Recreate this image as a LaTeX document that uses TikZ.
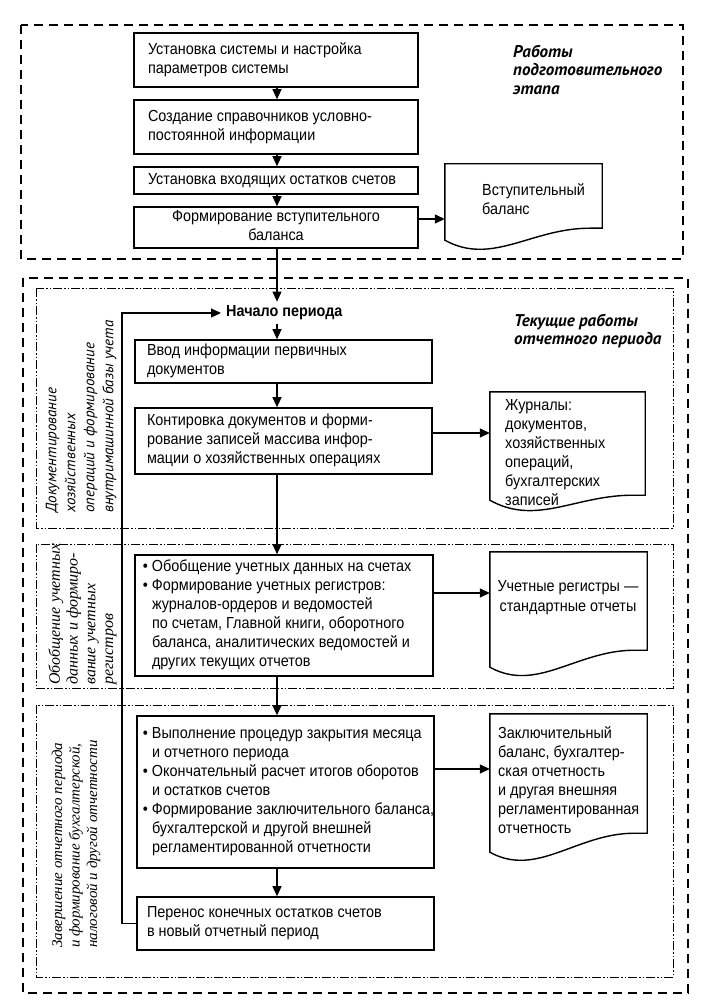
\documentclass[tikz,border=0pt]{standalone}
\usepackage{fontspec}
\setmainfont{Liberation Sans}[FakeStretch=0.9]
\newfontfamily\ptsans{PT Sans}
\newfontfamily\tnr{Liberation Serif}
\usetikzlibrary{arrows.meta,calc}
\newcommand\mytxt[3]{\makebox[#1pt][l]{\hspace*{#2pt}\begin{tabular}{@{}l@{}}#3\end{tabular}}}
\newcommand\mytl[1]{\begin{tabular}{@{}l@{}}#1\end{tabular}}
\newcommand\mytc[1]{\begin{tabular}{@{}c@{}}#1\end{tabular}}
\newcommand\bl{\llap{\textbullet\hspace{4pt}}}
\newcommand\docpath[2]{%
 \draw[docln] (#1.north west) -- (#1.north east) -- (#1.south east)
  -- ($(#1.south west)!0.92!(#1.south east)$)
  .. controls ($(#1.south west)!0.55!(#1.south east)$) and ($(#1.south west)!0.3!(#1.south east)+(0,#2+26)$)
  .. ($(#1.south west)+(0,#2)$) -- cycle;}
\begin{document}
\begin{tikzpicture}[x=1pt,y=-1pt,
 box/.style={draw, line width=1.6pt, inner sep=0pt, font=\fontsize{16}{19}\selectfont},
 docnode/.style={draw=none, inner sep=0pt},
 docln/.style={line width=1.4pt, line join=miter},
 doctxt/.style={anchor=north west, inner sep=0pt, font=\fontsize{16}{19}\selectfont},
 arr/.style={line width=1.2pt, -{Triangle[length=10pt,width=9pt]}},
 outerdash/.style={line width=2pt, dash pattern=on 9pt off 6pt},
 innerdash/.style={line width=0.9pt, dash pattern=on 9pt off 2pt on 1.5pt off 2pt on 1.5pt off 2pt},
 head/.style={anchor=north west, inner sep=0pt, font=\ptsans\bfseries\itshape\fontsize{17}{18.5}\selectfont},
 vlab/.style={rotate=90, anchor=west, inner sep=0pt}
]
\useasboundingbox[fill=white] (0,0) rectangle (720,1008);

% frames
\draw[outerdash] (21,25) rectangle (683,259);
\draw[outerdash] (23,278) rectangle (688,993);
\draw[innerdash] (36,288) rectangle (673,528);
\draw[innerdash] (36,544) rectangle (673,688);
\draw[innerdash] (36,705) rectangle (673,977);

\coordinate (ax) at (277,0);

% top section
\node[box, minimum width=284, minimum height=54] (b1) at (276,60)
  {\mytxt{284}{14}{Установка системы и настройка\\параметров системы}};
\node[box, minimum width=284, minimum height=54] (b2) at (276,127)
  {\mytxt{284}{14}{Создание справочников условно-\\постоянной информации}};
\node[box, minimum width=284, minimum height=27] (b3) at (276,180.5)
  {\mytxt{284}{14}{Установка входящих остатков счетов}};
\node[box, minimum width=284, minimum height=41] (b4) at (276,227.5)
  {\mytc{Формирование вступительного\\баланса}};
\node[docnode, minimum width=157, minimum height=64] (d1) at (523.5,196) {};
\docpath{d1}{12}
\node[doctxt] (t1) at (482,182) {\mytl{Вступительный\\баланс}};
\node[head] (h1) at (513,44) {\mytl{Работы\\подготовительного\\этапа}};

% section 1
\node[anchor=west, inner xsep=5pt, inner ysep=4pt, font=\bfseries\fontsize{16}{19}\selectfont] (nach) at (221,313) {Начало периода};
\node[head] (h2) at (514,313) {\mytl{Текущие работы\\отчетного периода}};
\node[box, minimum width=297, minimum height=43] (b5) at (283.5,361.5)
  {\mytxt{297}{12}{Ввод информации первичных\\документов}};
\node[box, minimum width=297, minimum height=66] (b6) at (283.5,441)
  {\mytxt{297}{12}{Контировка документов и форми-\\рование записей массива инфор-\\мации о хозяйственных операциях}};
\node[docnode, minimum width=155, minimum height=103] (d2) at (567.5,443.5) {};
\docpath{d2}{5}
\node[doctxt] (t2) at (505,397) {\mytl{Журналы:\\документов,\\хозяйственных\\операций,\\бухгалтерских\\записей}};
\node[vlab, font=\ptsans\itshape\fontsize{15}{19}\selectfont] (s1) at (81,513)
  {\mytl{Документирование\\хозяйственных\\операций и формирование\\внутримашинной базы учета}};

% section 2
\node[box, minimum width=298, minimum height=121] (b7) at (284,615.5)
  {\mytxt{298}{17}{\bl Обобщение учетных данных на счетах\\\bl Формирование учетных регистров:\\журналов-ордеров и ведомостей\\по счетам, Главной книги, оборотного\\баланса, аналитических ведомостей и\\других текущих отчетов}};
\node[docnode, minimum width=157, minimum height=98] (d3) at (568.5,601) {};
\docpath{d3}{17}
\node[anchor=north, inner sep=0pt, font=\fontsize{16}{20}\selectfont] (t3) at (568,577) {\mytc{Учетные регистры —\\стандартные отчеты}};
\node[vlab, font=\tnr\itshape\fontsize{16}{17.7}\selectfont] (s2) at (83,685)
  {\mytl{Обобщение учетных\\данных и формиро-\\вание учетных\\регистров}};

% section 3
\node[box, minimum width=297, minimum height=152] (b8) at (285.5,792)
  {\mytxt{297}{15}{\bl Выполнение процедур закрытия месяца\\и отчетного периода\\\bl Окончательный расчет итогов оборотов\\и остатков счетов\\\bl Формирование заключительного баланса,\\бухгалтерской и другой внешней\\регламентированной отчетности}};
\node[box, minimum width=297, minimum height=53] (b9) at (285.5,923.5)
  {\mytxt{297}{10}{Перенос конечных остатков счетов\\в новый отчетный период}};
\node[docnode, minimum width=157, minimum height=119] (d4) at (568.5,773.5) {};
\docpath{d4}{19}
\node[doctxt] (t4) at (498,725) {\mytl{Заключительный\\баланс, бухгалтер-\\ская отчетность\\и другая внешняя\\регламентированная\\отчетность}};
\node[vlab, font=\tnr\itshape\fontsize{15}{17.5}\selectfont] (s3) at (76,948)
  {\mytl{Завершение отчетного периода\\и формирование бухгалтерской,\\налоговой и другой отчетности}};

% connectors
\draw[arr] (b1.south -| ax) -- (b2.north -| ax);
\draw[arr] (b2.south -| ax) -- (b3.north -| ax);
\draw[arr] (b3.south -| ax) -- (b4.north -| ax);
\draw[arr] (b4.south -| ax) -- (nach.north -| ax);
\draw[arr] (nach.south -| ax) -- (b5.north -| ax);
\draw[arr] (b5.south -| ax) -- (b6.north -| ax);
\draw[arr] (b6.south -| ax) -- (b7.north -| ax);
\draw[arr] (b7.south -| ax) -- (b8.north -| ax);
\draw[arr] (b8.south -| ax) -- (b9.north -| ax);
\draw[arr] ([yshift=8.5pt]b4.east) -- ([yshift=8.5pt]b4.east -| d1.west);
\draw[arr] ([yshift=8pt]b6.east) -- ([yshift=8pt]b6.east -| d2.west);
\draw[arr] ([yshift=22.5pt]b7.east) -- ([yshift=22.5pt]b7.east -| d3.west);
\draw[arr] ([yshift=23pt]b8.east) -- ([yshift=23pt]b8.east -| d4.west);
\coordinate (lp) at (122,313);
\draw[arr] (b9.west) -| (lp) -- (nach.west);
\end{tikzpicture}
\end{document}
